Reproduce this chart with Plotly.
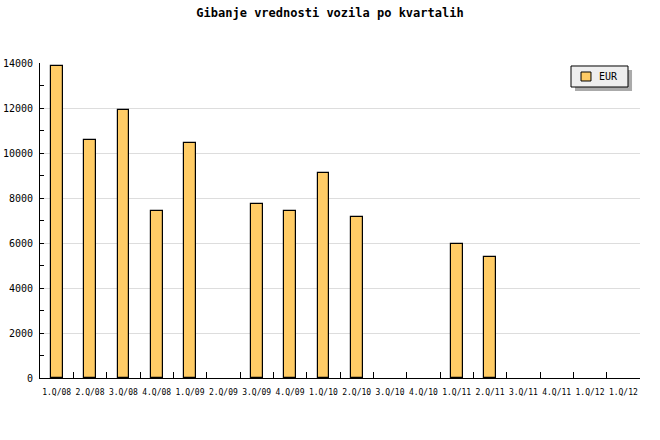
import plotly.graph_objects as go

quarters = ["1.Q/08", "2.Q/08", "3.Q/08", "4.Q/08", "1.Q/09", "2.Q/09", "3.Q/09",
            "4.Q/09", "1.Q/10", "2.Q/10", "3.Q/10", "4.Q/10", "1.Q/11", "2.Q/11",
            "3.Q/11", "4.Q/11", "1.Q/12", "1.Q/12"]
eur = [13870, 10580, 11910, 7440, 10440, 0, 7730, 7420, 9110, 7160, 0, 0,
       5960, 5380, 0, 0, 0, 0]
y_ticks = [0, 2000, 4000, 6000, 8000, 10000, 12000, 14000]
series_name = "EUR"

positions = list(range(len(quarters)))
boundaries = [p - 0.5 for p in positions] + [len(quarters) - 0.5]
# quarters with no value are not drawn at all
bar_values = [v if v else None for v in eur]

MONO = "DejaVu Sans Mono"
BAR_COLOR = "#FFCC66"

fig = go.Figure()
fig.add_trace(go.Bar(
    x=positions, y=bar_values, name=series_name, width=0.35,
    marker=dict(color=BAR_COLOR, line=dict(color="black", width=1.2)),
    showlegend=False,
))

# legend box drawn in the style of the original (shadowed, compact)
legend_shapes = [
    dict(type="rect", xref="paper", yref="paper",
         x0=0.8917, x1=0.9867, y0=0.9111, y1=0.9778,
         fillcolor="#aaaaaa", line=dict(width=0)),
    dict(type="rect", xref="paper", yref="paper",
         x0=0.885, x1=0.98, y0=0.9238, y1=0.9905,
         fillcolor="#eeeeee", line=dict(color="black", width=1)),
    dict(type="rect", xref="paper", yref="paper",
         x0=0.9017, x1=0.9183, y0=0.9429, y1=0.9714,
         fillcolor=BAR_COLOR, line=dict(color="black", width=1)),
]

fig.update_layout(
    width=660, height=440,
    paper_bgcolor="white", plot_bgcolor="white",
    margin=dict(l=40, r=20, t=63, b=62),
    title=dict(text="<b>Gibanje vrednosti vozila po kvartalih</b>",
               x=0.5, xanchor="center", y=0.972, yanchor="middle",
               font=dict(family=MONO, size=12, color="black")),
    font=dict(family=MONO, color="black"),
    bargap=0,
    showlegend=False,
    shapes=legend_shapes,
    annotations=[dict(text=series_name, xref="paper", yref="paper",
                      x=0.928, y=0.957, xanchor="left", yanchor="middle",
                      showarrow=False,
                      font=dict(family=MONO, size=10, color="black"))],
)

fig.update_xaxes(
    automargin=False,
    range=[-0.5, len(quarters) - 0.5],
    tickmode="array", tickvals=positions, ticktext=quarters,
    ticks="inside", ticklen=0, tickfont=dict(family=MONO, size=8),
    ticklabelstandoff=6,
    showline=True, linecolor="black", linewidth=1,
    showgrid=False, zeroline=False,
    minor=dict(tickmode="array", tickvals=boundaries, ticks="inside",
               ticklen=6, tickcolor="black", showgrid=False),
)
fig.update_yaxes(
    automargin=False,
    range=[0, 14000],
    tickmode="array", tickvals=y_ticks, ticktext=[str(t) for t in y_ticks],
    ticks="inside", ticklen=4, tickcolor="black",
    tickfont=dict(family=MONO, size=10),
    ticklabelstandoff=4,
    showline=True, linecolor="black", linewidth=1,
    showgrid=True, gridcolor="#dddddd", gridwidth=1, zeroline=False,
    minor=dict(dtick=1000, ticks="inside", ticklen=4, tickcolor="black", showgrid=False),
)

fig.write_html("out.html", config={"displayModeBar": False},
               post_script="document.body.style.margin='0';")
